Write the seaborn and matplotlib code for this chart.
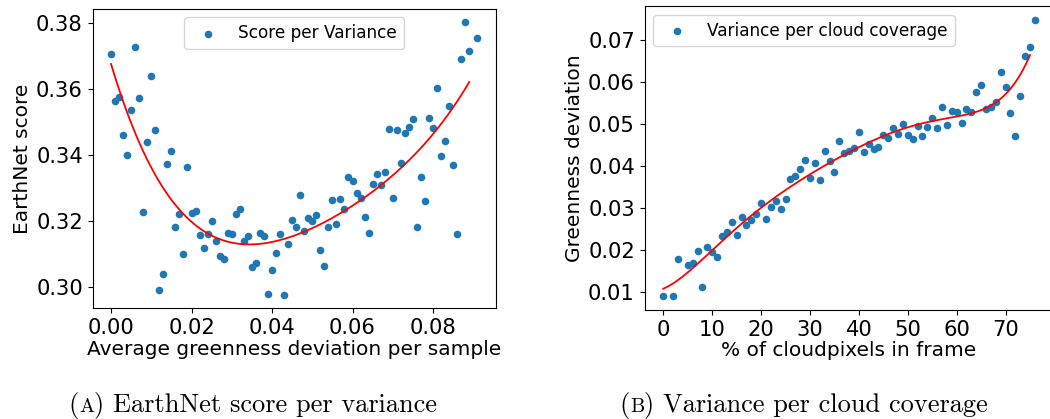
import numpy as np
import pandas as pd
import matplotlib
matplotlib.use("Agg")
import matplotlib.pyplot as plt
import seaborn as sns
from matplotlib.offsetbox import TextArea, HPacker, AnchoredOffsetbox

# ---- data: left panel (score per variance) ----
var_x = [0.000, 0.001, 0.002, 0.003, 0.004, 0.005, 0.006, 0.007, 0.008, 0.009,
         0.010, 0.011, 0.012, 0.013, 0.014, 0.015, 0.016, 0.017, 0.018, 0.019,
         0.020, 0.021, 0.022, 0.023, 0.024, 0.025, 0.026, 0.027, 0.028, 0.029,
         0.030, 0.031, 0.032, 0.033, 0.034, 0.035, 0.036, 0.037, 0.038, 0.039,
         0.040, 0.041, 0.042, 0.043, 0.044, 0.045, 0.046, 0.047, 0.048, 0.049,
         0.050, 0.051, 0.052, 0.053, 0.054, 0.055, 0.056, 0.057, 0.058, 0.059,
         0.060, 0.061, 0.062, 0.063, 0.064, 0.065, 0.066, 0.067, 0.068, 0.069,
         0.070, 0.071, 0.072, 0.073, 0.074, 0.075, 0.076, 0.077, 0.078, 0.079,
         0.080, 0.081, 0.082, 0.083, 0.084, 0.085, 0.086, 0.087, 0.088, 0.089,
         0.091]
score_y = [0.3707, 0.3565, 0.3577, 0.3461, 0.3399, 0.3538, 0.3729, 0.3574, 0.3227, 0.3438,
           0.3640, 0.3476, 0.2990, 0.3039, 0.3373, 0.3411, 0.3180, 0.3222, 0.3098, 0.3362,
           0.3223, 0.3230, 0.3157, 0.3116, 0.3160, 0.3199, 0.3139, 0.3094, 0.3085, 0.3162,
           0.3160, 0.3220, 0.3237, 0.3140, 0.3153, 0.3060, 0.3071, 0.3163, 0.3153, 0.2977,
           0.3049, 0.3103, 0.3160, 0.2975, 0.3130, 0.3202, 0.3182, 0.3278, 0.3168, 0.3207,
           0.3200, 0.3217, 0.3111, 0.3064, 0.3180, 0.3262, 0.3190, 0.3267, 0.3235, 0.3332,
           0.3320, 0.3283, 0.3270, 0.3211, 0.3163, 0.3313, 0.3342, 0.3308, 0.3347, 0.3478,
           0.3270, 0.3476, 0.3377, 0.3468, 0.3484, 0.3509, 0.3182, 0.3333, 0.3261, 0.3512,
           0.3483, 0.3603, 0.3397, 0.3441, 0.3549, 0.3371, 0.3160, 0.3693, 0.3803, 0.3715,
           0.3756]

# ---- data: right panel (variance per cloud coverage) ----
cloud_x = [0, 2, 3, 5, 6, 7, 8, 9, 10, 11, 12, 13, 14, 15, 16, 17, 18, 19, 20, 21,
           22, 23, 24, 25, 26, 27, 28, 29, 30, 31, 32, 33, 34, 35, 36, 37, 38, 39, 40, 41,
           42, 43, 44, 45, 46, 47, 48, 49, 50, 51, 52, 53, 54, 55, 56, 57, 58, 59, 60, 61,
           62, 63, 64, 65, 66, 67, 68, 69, 70, 71, 72, 73, 74, 75, 76]
green_y = [0.0090, 0.0090, 0.0180, 0.0166, 0.0170, 0.0199, 0.0113, 0.0209, 0.0195, 0.0184,
           0.0233, 0.0243, 0.0267, 0.0237, 0.0280, 0.0260, 0.0271, 0.0287, 0.0313, 0.0275,
           0.0304, 0.0317, 0.0298, 0.0321, 0.0370, 0.0378, 0.0394, 0.0414, 0.0373, 0.0408,
           0.0368, 0.0437, 0.0412, 0.0387, 0.0460, 0.0432, 0.0436, 0.0444, 0.0481, 0.0435,
           0.0452, 0.0442, 0.0445, 0.0474, 0.0467, 0.0490, 0.0477, 0.0500, 0.0475, 0.0464,
           0.0497, 0.0473, 0.0494, 0.0514, 0.0492, 0.0540, 0.0498, 0.0532, 0.0530, 0.0504,
           0.0536, 0.0530, 0.0576, 0.0594, 0.0537, 0.0542, 0.0552, 0.0624, 0.0588, 0.0526,
           0.0471, 0.0568, 0.0663, 0.0684, 0.0748]

left_label = "Score per Variance"
right_label = "Variance per cloud coverage"

plt.rcParams.update({"font.family": ["DejaVu Sans"]})

fig = plt.figure(figsize=(10.5, 4.19), dpi=100)
ax1 = fig.add_axes([92.7 / 1050, 1 - 308.4 / 419, 402.9 / 1050, (308.4 - 8.8) / 419])
ax2 = fig.add_axes([644.7 / 1050, 1 - 310.3 / 419, (1053.5 - 644.7) / 1050, (310.3 - 6.3) / 419])

dot = "#1f77b4"
TICK = 15.2
LAB = 14.5
LEG = 12.2

def panel(ax, x, y, deg, label, xlabel, ylabel, loc):
    df = pd.DataFrame({"x": x, "y": y})
    sns.scatterplot(data=df, x="x", y="y", ax=ax, color=dot, s=30, linewidth=0,
                    label=label)
    coef = np.polyfit(df["x"], df["y"], deg)
    xs = np.linspace(x[0], x[-2], 200)
    ax.plot(xs, np.polyval(coef, xs), color="red", lw=1.3)
    ax.set_xlabel(xlabel, fontsize=LAB, labelpad=1)
    ax.set_ylabel(ylabel, fontsize=LAB, labelpad=3)
    ax.tick_params(labelsize=TICK)
    ax.legend(loc=loc, fontsize=LEG, scatterpoints=1)

panel(ax1, var_x, score_y, 4, left_label,
      "Average greenness deviation per sample", "EarthNet score", "upper center")
panel(ax2, cloud_x, green_y, 6, right_label,
      "% of cloudpixels in frame", "Greenness deviation", "upper left")
ax1.set_yticks([0.30, 0.32, 0.34, 0.36, 0.38])
ax1.set_xticks([0.00, 0.02, 0.04, 0.06, 0.08])
ax2.set_xticks([0, 10, 20, 30, 40, 50, 60, 70])
ax2.set_yticks([0.01, 0.02, 0.03, 0.04, 0.05, 0.06, 0.07])

def caption(xc, letter, text):
    big = dict(fontfamily="cmr10", fontsize=19)
    small = dict(fontfamily="cmr10", fontsize=14.5)
    box = HPacker(children=[TextArea("(", textprops=big),
                            TextArea(letter, textprops=small),
                            TextArea(") " + text, textprops=big)],
                  align="baseline", pad=0, sep=0)
    ab = AnchoredOffsetbox(loc="center", child=box, pad=0, frameon=False,
                           bbox_to_anchor=(xc, 1 - 405 / 419),
                           bbox_transform=fig.transFigure, borderpad=0)
    fig.add_artist(ab)

caption(253 / 1050, "A", "EarthNet score per variance")
caption(804 / 1050, "B", "Variance per cloud coverage")

fig.savefig("out.png", dpi=100)
